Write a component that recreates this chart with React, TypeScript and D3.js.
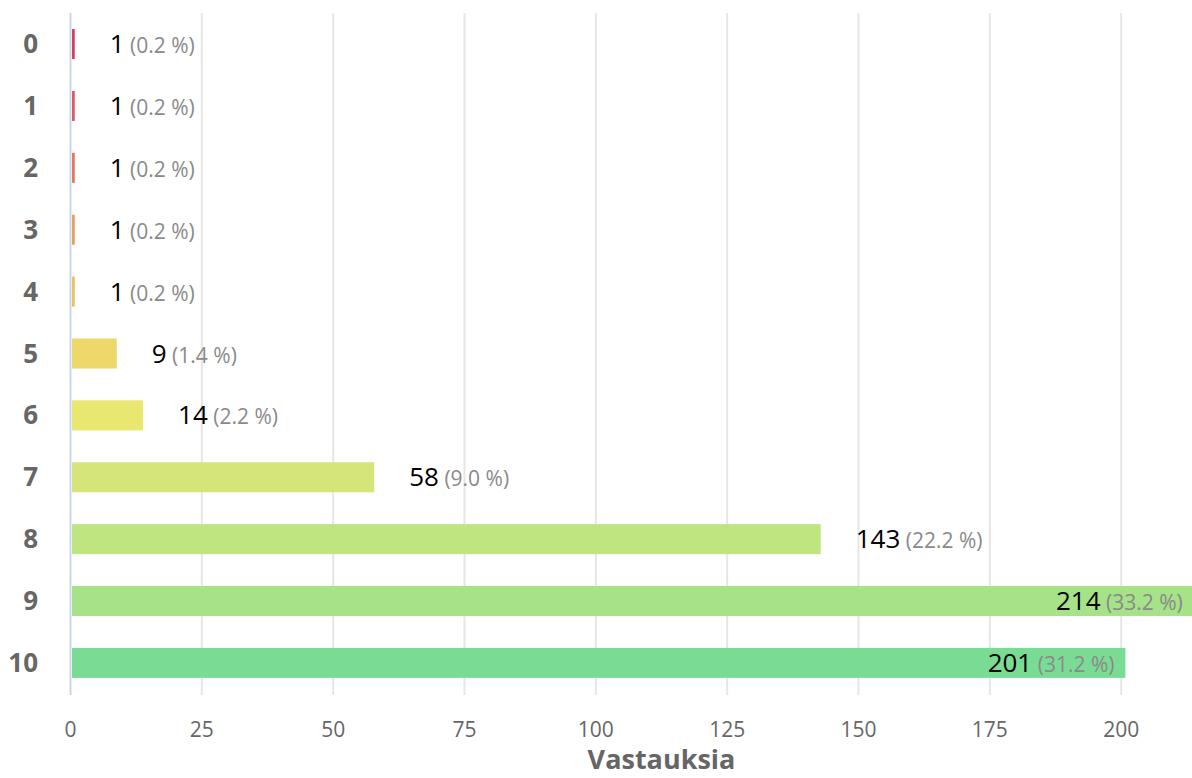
import { scaleBand, scaleLinear } from 'd3';

const categories = ['0', '1', '2', '3', '4', '5', '6', '7', '8', '9', '10'];
const counts = [1, 1, 1, 1, 1, 9, 14, 58, 143, 214, 201];
const percents = ['0.2', '0.2', '0.2', '0.2', '0.2', '1.4', '2.2', '9.0', '22.2', '33.2', '31.2'];
const barColors = [
  '#d1405f',
  '#dc5a67',
  '#e4785f',
  '#eb9d5c',
  '#efbf58',
  '#eed86a',
  '#e8e870',
  '#d5e57a',
  '#bee57f',
  '#a6e287',
  '#7adc94',
];
const xTicks = [0, 25, 50, 75, 100, 125, 150, 175, 200];
const axisTitle = 'Vastauksia';

const FONT = '"Open Sans", "Noto Sans", sans-serif';
const W = 1192;
const H = 778;
const plotTop = 13;
const plotBottom = 694;
const plotRight = 1252.5;

let ctx: CanvasRenderingContext2D | null = null;
const measure = (text: string, size: number) => {
  if (!ctx) ctx = document.createElement('canvas').getContext('2d');
  if (!ctx) return text.length * size * 0.55;
  ctx.font = `${size}px ${FONT}`;
  return ctx.measureText(text).width;
};

const App = () => {
  const x = scaleLinear().domain([0, 225]).range([70.5, plotRight]);
  const y = scaleBand<string>()
    .domain(categories)
    .range([plotTop, plotBottom])
    .paddingInner(0.515)
    .paddingOuter(0.26);
  const bw = y.bandwidth();

  return (
    <div style={{ position: 'absolute', left: 0, top: 0 }}>
      <svg width={W} height={H} style={{ display: 'block', fontFamily: FONT }}>
        {/* gridlines */}
        {xTicks
          .filter((t) => t > 0)
          .map((t) => (
            <line
              key={t}
              x1={x(t)}
              x2={x(t)}
              y1={plotTop}
              y2={plotBottom + 1}
              stroke="#e6e6e6"
              strokeWidth={2}
            />
          ))}

        {/* bars */}
        {categories.map((c, i) => (
          <rect
            key={c}
            x={x(0) + 1.5}
            y={y(c)}
            width={Math.max(0, x(counts[i]) - x(0) - 2.5)}
            height={bw}
            fill={barColors[i]}
          />
        ))}

        {/* zero axis line */}
        <line x1={x(0)} x2={x(0)} y1={plotTop} y2={plotBottom + 1} stroke="#ccd6eb" strokeWidth={2} />

        {/* category labels */}
        {categories.map((c) => (
          <text
            key={c}
            x={38}
            y={(y(c) ?? 0) + bw / 2 + 9}
            textAnchor="end"
            fontSize={26}
            fontWeight="bold"
            fill="#666666"
          >
            {c}
          </text>
        ))}

        {/* data labels */}
        {categories.map((c, i) => {
          const main = String(counts[i]);
          const pct = `(${percents[i]} %)`;
          const wMain = measure(main, 26);
          const wPct = measure(' ' + pct, 21);
          const total = wMain + wPct;
          const end = x(counts[i]);
          let startX = end + 34;
          if (startX + total > plotRight) {
            startX = Math.min(end, plotRight) - 12 - total;
          }
          return (
            <text key={c} x={startX} y={(y(c) ?? 0) + bw / 2 + 9}>
              <tspan fontSize={26} fill="#000000">
                {main}
              </tspan>
              <tspan fontSize={21} fill="#8a8a8a">
                {' ' + pct}
              </tspan>
            </text>
          );
        })}

        {/* x tick labels */}
        {xTicks.map((t) => (
          <text key={t} x={x(t)} y={737} textAnchor="middle" fontSize={21} fill="#666666">
            {t}
          </text>
        ))}

        {/* axis title */}
        <text
          x={(x(0) + plotRight) / 2}
          y={769}
          textAnchor="middle"
          fontSize={27}
          fontWeight="bold"
          fill="#666666"
        >
          {axisTitle}
        </text>
      </svg>
    </div>
  );
};

export default App;
